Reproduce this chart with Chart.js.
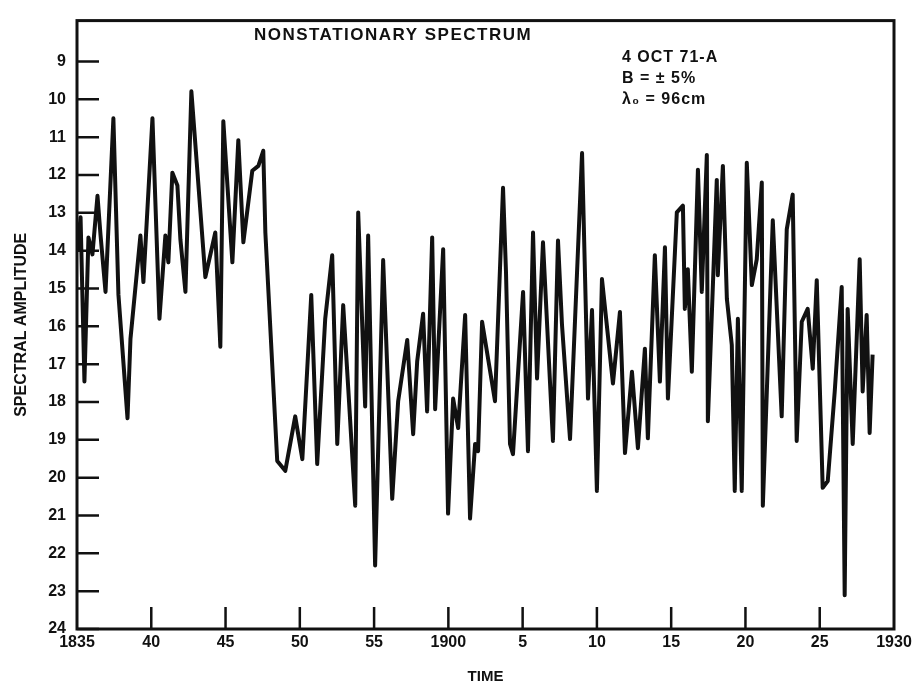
<!DOCTYPE html>
<html>
<head>
<meta charset="utf-8">
<script src="https://cdn.jsdelivr.net/npm/chart.js@4.4.1/dist/chart.umd.min.js"></script>
<style>
  html, body { margin: 0; padding: 0; background: #fff; }
  #wrap { width: 921px; height: 686px; }
</style>
</head>
<body>
<div id="wrap"><canvas id="chart" width="921" height="686"></canvas></div>
<script>
// time in minutes after 18:00, amplitude
const times = [
  35.03, 35.24, 35.50, 35.77, 36.04, 36.38, 36.58, 36.92, 37.45, 37.79,
  38.40, 38.60, 39.27, 39.47, 40.08, 40.55, 40.95, 41.15, 41.42, 41.76,
  41.96, 42.30, 42.70, 43.64, 44.31, 44.65, 44.85, 45.46, 45.86, 46.20,
  46.80, 47.21, 47.54, 47.68, 48.48, 49.02, 49.69, 50.17, 50.77, 51.17,
  51.71, 52.18, 52.52, 52.92, 53.26, 53.73, 53.93, 54.40, 54.60, 55.07,
  55.61, 56.22, 56.62, 57.23, 57.63, 57.90, 58.30, 58.57, 58.91, 59.11,
  59.65, 59.98, 60.32, 60.66, 61.13, 61.46, 61.80, 62.00, 62.27, 63.14,
  63.68, 63.88, 64.15, 64.35, 65.03, 65.36, 65.70, 65.97, 66.37, 67.04,
  67.38, 67.65, 68.19, 69.00, 69.40, 69.67, 70.00, 70.34, 71.08, 71.55,
  71.89, 72.36, 72.76, 73.23, 73.43, 73.90, 74.24, 74.58, 74.78, 75.38,
  75.79, 75.92, 76.12, 76.39, 76.80, 77.06, 77.40, 77.47, 78.07, 78.14,
  78.48, 78.75, 79.08, 79.28, 79.49, 79.75, 80.09, 80.43, 80.76, 81.10,
  81.17, 81.84, 82.44, 82.78, 83.18, 83.45, 83.79, 84.19, 84.53, 84.80,
  85.20, 85.54, 86.01, 86.48, 86.68, 86.88, 87.22, 87.69, 87.89, 88.16,
  88.36, 88.56
];
const amplitudes = [
  13.99, 13.12, 17.46, 13.65, 14.10, 12.55, 13.57, 15.09, 10.50, 15.17,
  18.43, 16.33, 13.60, 14.83, 10.50, 15.80, 13.60, 14.31, 11.94, 12.28,
  13.70, 15.09, 9.79, 14.70, 13.52, 16.54, 10.58, 14.31, 11.08, 13.78,
  11.89, 11.76, 11.36, 13.52, 19.56, 19.82, 18.38, 19.51, 15.17, 19.64,
  15.80, 14.12, 19.11, 15.44, 17.64, 20.74, 12.99, 18.12, 13.60, 22.32,
  14.25, 20.56, 17.98, 16.36, 18.85, 16.93, 15.67, 18.25, 13.65, 18.19,
  13.96, 20.95, 17.91, 18.69, 15.70, 21.08, 19.11, 19.30, 15.88, 17.98,
  12.34, 14.57, 19.11, 19.38, 15.09, 19.30, 13.52, 17.38, 13.78, 19.03,
  13.73, 15.96, 18.98, 11.42, 17.91, 15.57, 20.35, 14.75, 17.51, 15.62,
  19.35, 17.20, 19.22, 16.59, 18.96, 14.12, 17.46, 13.91, 17.91, 12.99,
  12.81, 15.54, 14.49, 17.20, 11.86, 15.09, 11.47, 18.51, 12.13, 14.65,
  11.76, 15.28, 16.49, 20.35, 15.80, 20.35, 11.68, 14.91, 14.23, 12.20,
  20.74, 13.20, 18.38, 13.44, 12.52, 19.03, 15.88, 15.54, 17.12, 14.78,
  20.27, 20.09, 17.72, 14.96, 23.11, 15.54, 19.11, 14.23, 17.72, 15.70,
  18.82, 16.75
];
const xTicks = [35, 40, 45, 50, 55, 60, 65, 70, 75, 80, 85, 90];
const xTickLabels = ['1835', '40', '45', '50', '55', '1900', '5', '10', '15', '20', '25', '1930'];
const yTicks = [9, 10, 11, 12, 13, 14, 15, 16, 17, 18, 19, 20, 21, 22, 23, 24];
const titleText = 'NONSTATIONARY SPECTRUM';
const notes = ['4 OCT 71-A', 'B = \u00B1 5%', '\u03BB\u2080 = 96cm'];

const FONT = '"Liberation Sans", Arial, sans-serif';
const INK = '#111';

// frame, inward tick marks, title and note block
const overlay = {
  id: 'overlay',
  afterDraw(chart) {
    const { ctx, chartArea: a, scales } = chart;
    ctx.save();
    ctx.strokeStyle = INK;
    ctx.lineWidth = 3;
    ctx.strokeRect(a.left, a.top, a.right - a.left, a.bottom - a.top);

    ctx.lineWidth = 2.5;
    ctx.beginPath();
    yTicks.forEach(v => {
      const y = scales.y.getPixelForValue(v);
      ctx.moveTo(a.left, y);
      ctx.lineTo(a.left + 22, y);
    });
    xTicks.slice(1, -1).forEach(v => {
      const x = scales.x.getPixelForValue(v);
      ctx.moveTo(x, a.bottom);
      ctx.lineTo(x, a.bottom - 22);
    });
    ctx.stroke();

    ctx.fillStyle = INK;
    ctx.textBaseline = 'middle';
    ctx.textAlign = 'center';
    ctx.font = 'bold 17px ' + FONT;
    ctx.letterSpacing = '1.5px';
    ctx.fillText(titleText, 393, 35);

    ctx.textAlign = 'left';
    ctx.font = 'bold 16px ' + FONT;
    ctx.letterSpacing = '1px';
    notes.forEach((t, i) => ctx.fillText(t, 622, 58 + i * 21));
    ctx.restore();
  }
};

new Chart(document.getElementById('chart'), {
  type: 'line',
  data: {
    datasets: [{
      data: times.map((t, i) => ({ x: t, y: amplitudes[i] })),
      borderColor: INK,
      borderWidth: 4,
      borderJoinStyle: 'round',
      pointRadius: 0,
      tension: 0,
      fill: false
    }]
  },
  options: {
    responsive: false,
    animation: false,
    layout: { padding: { top: 17, right: 27, left: 0, bottom: 0 } },
    plugins: { legend: { display: false }, tooltip: { enabled: false } },
    scales: {
      x: {
        type: 'linear',
        min: 35,
        max: 90,
        afterBuildTicks: scale => { scale.ticks = xTicks.map(v => ({ value: v })); },
        afterFit: scale => { scale.height = 57; },
        grid: { display: false, drawTicks: false },
        border: { display: false },
        ticks: {
          padding: 4,
          maxRotation: 0,
          autoSkip: false,
          color: INK,
          font: { family: FONT, size: 16, weight: 'bold' },
          callback: v => xTickLabels[xTicks.indexOf(v)]
        },
        title: {
          display: true,
          text: 'TIME',
          color: INK,
          padding: { top: 0, bottom: 0 },
          font: { family: FONT, size: 15, weight: 'bold' }
        }
      },
      y: {
        type: 'linear',
        reverse: true,
        min: 7.92,
        max: 24,
        afterBuildTicks: scale => { scale.ticks = yTicks.map(v => ({ value: v })); },
        afterFit: scale => { scale.width = 77; },
        grid: { display: false, drawTicks: false },
        border: { display: false },
        ticks: {
          padding: 11,
          autoSkip: false,
          color: INK,
          font: { family: FONT, size: 16, weight: 'bold' },
          callback: v => String(v)
        },
        title: {
          display: true,
          text: 'SPECTRAL AMPLITUDE',
          color: INK,
          padding: { top: 12, bottom: 0 },
          font: { family: FONT, size: 16, weight: 'bold' }
        }
      }
    }
  },
  plugins: [overlay]
});
</script>
</body>
</html>
